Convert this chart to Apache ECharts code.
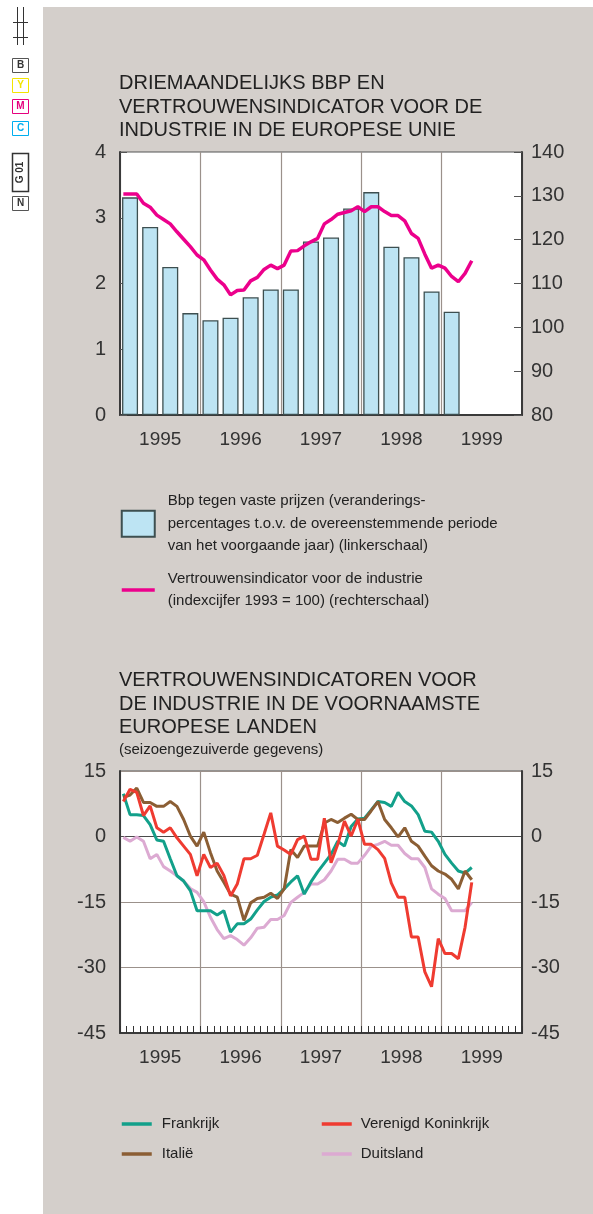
<!DOCTYPE html>
<html>
<head>
<meta charset="utf-8">
<script src="https://cdn.jsdelivr.net/npm/echarts@6/dist/echarts.min.js"></script>
<style>
    body {margin: 0; background: #fff;}
    #panel {position: absolute; left: 43px; top: 7px; width: 550px; height: 1207px; background: #d4cfcb;}
    #chart {position: absolute; left: 0; top: 0; width: 593px; height: 1214px;}
</style>
</head>
<body>
<div id="panel"></div>
<div id="chart"></div>
<script>
    // jaren op de x-as
    var years = ['1995', '1996', '1997', '1998', '1999'];

    // bbp per kwartaal, 1995 K1 - 1999 K1 (linkerschaal)
    var bbp = [3.31, 2.86, 2.25, 1.55, 1.44, 1.48, 1.79, 1.91, 1.91, 2.64, 2.70, 3.14, 3.39, 2.56, 2.40, 1.88, 1.57];

    // vertrouwensindicator EU per maand, jan 1995 - mei 1999 (rechterschaal)
    var vertrouwen = [130.4, 130.4, 130.4, 128.3, 127.4, 125.6, 124.6, 123.6, 121.8, 120.1, 118.4, 116.5,
        115.4, 113.1, 111.0, 109.7, 107.4, 108.4, 108.5, 110.6, 111.4, 113.2, 114.2, 113.4,
        114.2, 117.4, 117.5, 118.6, 119.5, 120.3, 123.6, 124.6, 125.8, 126.2, 126.6, 127.5,
        126.4, 127.5, 127.5, 126.4, 125.5, 125.5, 124.3, 121.4, 120.3, 116.7, 113.5, 114.2,
        113.5, 111.6, 110.4, 112.3, 115.2];

    // per land, jan 1995 - mei 1999
    var frankrijk = [9.8, 5.0, 5.0, 4.8, 2.7, -0.8, -1.1, -5.1, -9.0, -10.2, -12.4, -17.0,
        -17.0, -17.0, -18.0, -17.0, -21.9, -20.0, -20.0, -18.9, -16.8, -14.9, -13.9, -13.4,
        -12.0, -10.4, -9.0, -13.2, -10.4, -8.1, -6.1, -4.1, -1.1, -2.2, 2.3, 4.0,
        4.2, 6.1, 8.0, 7.8, 6.9, 10.1, 8.0, 7.0, 5.0, 1.2, 1.0, -1.1,
        -4.1, -6.1, -7.9, -8.4, -7.1];
    var italie = [9.0, 9.5, 11.1, 7.8, 7.8, 6.9, 6.9, 8.0, 6.9, 3.9, 0.1, -2.2,
        1.0, -3.7, -7.9, -10.5, -13.2, -13.9, -19.2, -15.2, -14.2, -13.9, -13.0, -14.2,
        -12.0, -3.0, -4.8, -2.2, -2.2, -2.2, 3.1, 3.9, 3.2, 4.2, 5.1, 3.9,
        3.9, 5.9, 8.0, 3.9, 2.0, -0.1, 2.0, -1.1, -2.2, -4.5, -6.7, -7.9,
        -8.6, -9.8, -12.0, -7.9, -9.9];
    var vk = [8.0, 10.8, 10.1, 4.8, 7.0, 2.0, 1.0, 2.0, -0.3, -2.2, -4.1, -9.0,
        -4.1, -7.1, -6.1, -8.9, -13.6, -10.9, -5.1, -5.1, -4.3, 0.5, 5.4, -2.2,
        -3.1, -4.1, -0.7, 0.1, -5.2, -5.2, 4.2, -6.0, -1.8, 3.5, 0.1, 3.9,
        -1.8, -1.8, -3.0, -5.0, -10.7, -13.9, -13.9, -23.0, -23.0, -31.0, -34.4, -23.4,
        -26.8, -26.8, -28.0, -20.8, -10.5];
    var duitsland = [-0.2, -1.1, -0.1, -1.1, -5.1, -4.1, -6.9, -7.9, -9.0, -10.2, -11.9, -12.8,
        -14.9, -18.5, -21.3, -23.4, -22.7, -23.6, -24.9, -23.2, -21.0, -20.8, -19.0, -19.0,
        -18.1, -15.1, -13.9, -12.8, -10.9, -10.9, -9.9, -7.9, -5.2, -5.2, -6.1, -6.1,
        -4.3, -2.2, -1.8, -1.1, -2.0, -2.0, -3.9, -5.1, -5.1, -7.1, -12.0, -13.2,
        -14.2, -17.0, -17.0, -17.0, -15.1];

    var legendTekst = {
        'Bbp': 'Bbp tegen vaste prijzen (veranderings-\npercentages t.o.v. de overeenstemmende periode\nvan het voorgaande jaar) (linkerschaal)',
        'Vertrouwensindicator': 'Vertrouwensindicator voor de industrie\n(indexcijfer 1993 = 100) (rechterschaal)'
    };

    var font = 'Liberation Sans, Arial, sans-serif';
    var gridLine = '#9b918b';
    var asKleur = '#3a3a3a';

    // kwartalen/maanden op een verborgen maand-as (0..60)
    function perKwartaal(arr) {
        return arr.map(function (v, i) { return [i * 3 + 1.5, v]; });
    }
    function perMaand(arr) {
        return arr.map(function (v, i) { return [i + 0.5, v]; });
    }

    function jaarAs(grid) {
        return {
            type: 'category', gridIndex: grid, data: years, boundaryGap: true,
            axisLine: {onZero: false, lineStyle: {color: asKleur, width: 2}},
            axisTick: {show: false},
            axisLabel: {fontSize: 19, color: '#333', fontFamily: font, margin: 15},
            splitLine: {show: true, lineStyle: {color: gridLine, width: 1.2}}
        };
    }

    function lijnSerie(naam, data, kleur) {
        return {
            name: naam, type: 'line', xAxisIndex: 3, yAxisIndex: 2,
            data: perMaand(data), symbol: 'none', silent: true,
            lineStyle: {color: kleur, width: 3}, itemStyle: {color: kleur}
        };
    }

    // alleen het lijntje in de legenda, geen bolletje
    function lijnItem(naam) {
        return {name: naam, itemStyle: {opacity: 0}, lineStyle: {width: 3.5}};
    }

    var myChart = echarts.init(document.getElementById('chart'));
    myChart.setOption({
        animation: false,
        textStyle: {fontFamily: font},
        title: [
            {
                text: 'DRIEMAANDELIJKS BBP EN\nVERTROUWENSINDICATOR VOOR DE\nINDUSTRIE IN DE EUROPESE UNIE',
                left: 119, top: 72, padding: 0,
                textStyle: {fontSize: 20, fontWeight: 'normal', color: '#222', lineHeight: 23.5}
            },
            {
                text: 'VERTROUWENSINDICATOREN VOOR\nDE INDUSTRIE IN DE VOORNAAMSTE\nEUROPESE LANDEN',
                subtext: '(seizoengezuiverde gegevens)',
                left: 119, top: 669, padding: 0, itemGap: 1,
                textStyle: {fontSize: 20, fontWeight: 'normal', color: '#222', lineHeight: 23.5},
                subtextStyle: {fontSize: 15, color: '#222', lineHeight: 18}
            }
        ],
        legend: [
            {
                orient: 'vertical', left: 120, top: 490, padding: 0, itemGap: 10,
                itemWidth: 33, itemHeight: 26, selectedMode: false,
                data: [{name: 'Bbp', icon: 'rect'}, lijnItem('Vertrouwensindicator')],
                formatter: function (name) { return legendTekst[name]; },
                textStyle: {fontSize: 15, color: '#222', lineHeight: 22.5, padding: [0, 0, 0, 8]}
            },
            {
                orient: 'vertical', left: 120, top: 1115, padding: 0, itemGap: 12,
                itemWidth: 30, itemHeight: 14, selectedMode: false,
                data: [lijnItem('Frankrijk'), lijnItem('Italië')],
                textStyle: {fontSize: 15, color: '#222', lineHeight: 18, padding: [0, 0, 0, 5]}
            },
            {
                orient: 'vertical', left: 320, top: 1115, padding: 0, itemGap: 12,
                itemWidth: 30, itemHeight: 14, selectedMode: false,
                data: [lijnItem('Verenigd Koninkrijk'), lijnItem('Duitsland')],
                textStyle: {fontSize: 15, color: '#222', lineHeight: 18, padding: [0, 0, 0, 4]}
            }
        ],
        grid: [
            {left: 120, top: 152, width: 402, height: 263, show: true, backgroundColor: '#fff', borderColor: '#555', borderWidth: 1},
            {left: 120, top: 771, width: 402, height: 262, show: true, backgroundColor: '#fff', borderColor: '#555', borderWidth: 1}
        ],
        xAxis: [
            jaarAs(0),
            {type: 'value', gridIndex: 0, min: 0, max: 60, show: false},
            jaarAs(1),
            {
                type: 'value', gridIndex: 1, min: 0, max: 60, interval: 1, position: 'bottom',
                axisLine: {show: false, onZero: false}, axisLabel: {show: false}, splitLine: {show: false},
                axisTick: {show: true, inside: true, length: 7, lineStyle: {color: '#333', width: 1}}
            }
        ],
        yAxis: [
            {
                type: 'value', gridIndex: 0, min: 0, max: 4, interval: 1, position: 'left',
                axisLine: {show: true, lineStyle: {color: asKleur, width: 2}},
                axisTick: {show: true, inside: true, length: 7, lineStyle: {color: '#555'}},
                axisLabel: {fontSize: 20, color: '#333', margin: 14},
                splitLine: {show: false}
            },
            {
                type: 'value', gridIndex: 0, min: 80, max: 140, interval: 10, position: 'right',
                axisLine: {show: true, lineStyle: {color: asKleur, width: 2}},
                axisTick: {show: true, inside: true, length: 8, lineStyle: {color: '#555'}},
                axisLabel: {fontSize: 20, color: '#333', margin: 9},
                splitLine: {show: false}
            },
            {
                type: 'value', gridIndex: 1, min: -45, max: 15, interval: 15, position: 'left',
                axisLine: {show: true, lineStyle: {color: asKleur, width: 2}},
                axisTick: {show: false},
                axisLabel: {fontSize: 20, color: '#333', margin: 14},
                splitLine: {show: true, lineStyle: {color: [gridLine, gridLine, gridLine, '#4a4a4a', gridLine], width: 1.2}}
            },
            {
                type: 'value', gridIndex: 1, min: -45, max: 15, interval: 15, position: 'right',
                axisLine: {show: true, lineStyle: {color: asKleur, width: 2}},
                axisTick: {show: false},
                axisLabel: {fontSize: 20, color: '#333', margin: 9},
                splitLine: {show: false}
            }
        ],
        series: [
            {
                name: 'Bbp', type: 'bar', xAxisIndex: 1, yAxisIndex: 0,
                data: perKwartaal(bbp), barWidth: 16, silent: true,
                itemStyle: {color: '#bde4f3', borderColor: '#3d4f50', borderWidth: 1.3}
            },
            {
                name: 'Vertrouwensindicator', type: 'line', xAxisIndex: 1, yAxisIndex: 1,
                data: perMaand(vertrouwen), symbol: 'none', silent: true,
                lineStyle: {color: '#ec008c', width: 3.5}, itemStyle: {color: '#ec008c'}
            },
            lijnSerie('Duitsland', duitsland, '#dcaad2'),
            lijnSerie('Frankrijk', frankrijk, '#12a08a'),
            lijnSerie('Italië', italie, '#8b5e34'),
            lijnSerie('Verenigd Koninkrijk', vk, '#ef3b31')
        ],
        graphic: [
            // pasmerken in de marge
            {type: 'line', shape: {x1: 17.5, y1: 7, x2: 17.5, y2: 45}, style: {stroke: '#333', lineWidth: 1}},
            {type: 'line', shape: {x1: 23.5, y1: 7, x2: 23.5, y2: 45}, style: {stroke: '#333', lineWidth: 1}},
            {type: 'line', shape: {x1: 13, y1: 22.5, x2: 28, y2: 22.5}, style: {stroke: '#333', lineWidth: 1}},
            {type: 'line', shape: {x1: 13, y1: 37.5, x2: 28, y2: 37.5}, style: {stroke: '#333', lineWidth: 1}},
            {type: 'rect', shape: {x: 12.5, y: 58.5, width: 16, height: 14}, style: {fill: '#fff', stroke: '#555', lineWidth: 1}},
            {type: 'text', x: 20.5, y: 65.5, style: {text: 'B', fill: '#333', font: 'bold 10px ' + font, align: 'center', verticalAlign: 'middle'}},
            {type: 'rect', shape: {x: 12.5, y: 78.5, width: 16, height: 14}, style: {fill: '#fff', stroke: '#f3e500', lineWidth: 1}},
            {type: 'text', x: 20.5, y: 85.5, style: {text: 'Y', fill: '#f3e500', font: 'bold 10px ' + font, align: 'center', verticalAlign: 'middle'}},
            {type: 'rect', shape: {x: 12.5, y: 99.5, width: 16, height: 14}, style: {fill: '#fff', stroke: '#e6007e', lineWidth: 1}},
            {type: 'text', x: 20.5, y: 106.5, style: {text: 'M', fill: '#e6007e', font: 'bold 10px ' + font, align: 'center', verticalAlign: 'middle'}},
            {type: 'rect', shape: {x: 12.5, y: 121.5, width: 16, height: 14}, style: {fill: '#fff', stroke: '#00aeef', lineWidth: 1}},
            {type: 'text', x: 20.5, y: 128.5, style: {text: 'C', fill: '#00aeef', font: 'bold 10px ' + font, align: 'center', verticalAlign: 'middle'}},
            {type: 'rect', shape: {x: 12.5, y: 153.5, width: 16, height: 38}, style: {fill: '#fff', stroke: '#333', lineWidth: 1.5}},
            {type: 'text', x: 20.5, y: 172.5, rotation: Math.PI / 2, style: {text: 'G 01', fill: '#333', font: 'bold 10px ' + font, align: 'center', verticalAlign: 'middle'}},
            {type: 'rect', shape: {x: 12.5, y: 196.5, width: 16, height: 14}, style: {fill: '#fff', stroke: '#555', lineWidth: 1}},
            {type: 'text', x: 20.5, y: 203.5, style: {text: 'N', fill: '#333', font: 'bold 10px ' + font, align: 'center', verticalAlign: 'middle'}}
        ]
    });
</script>
</body>
</html>
